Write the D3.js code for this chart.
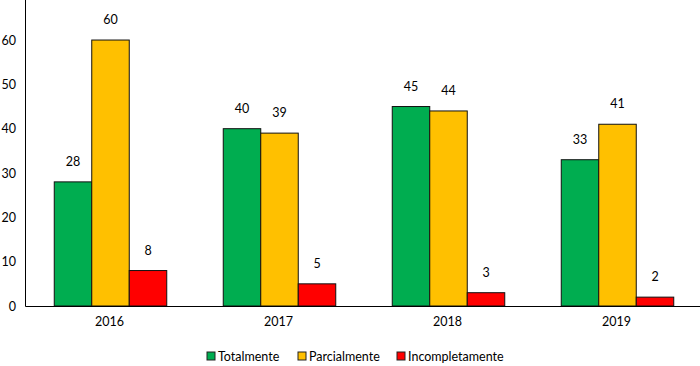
<!DOCTYPE html>
<html><head><meta charset="utf-8">
<script src="https://cdn.jsdelivr.net/npm/d3@7"></script>
<style>body{margin:0;background:#fff}svg{display:block;font-family:Lato,"Open Sans",sans-serif}</style>
</head><body><svg id="c" width="700" height="366"></svg>
<script>
const years = ["2016","2017","2018","2019"];
const seriesNames = ["Totalmente","Parcialmente","Incompletamente"];
const totalmente = [28,40,45,33];
const parcialmente = [60,39,44,41];
const incompletamente = [8,5,3,2];
const colors = ["#00ad50","#ffc000","#ff0000"];
const yTicks = [0,10,20,30,40,50,60,70];

const svg = d3.select("#c");
const x = d3.scaleBand().domain(years).range([25,701]);
const xs = d3.scaleBand().domain(seriesNames).range([0,112.5]);
const y = d3.scaleLinear().domain([0,70]).range([306,-4.3]);
const vals = [totalmente,parcialmente,incompletamente];

const ya = svg.append("g").attr("transform","translate(25,0)")
  .call(d3.axisLeft(y).tickValues(yTicks).tickSize(0).tickPadding(9));
ya.select(".domain").attr("stroke","#000");
ya.selectAll("text").attr("font-size",12.5).attr("fill","#000").attr("font-family","Lato, sans-serif");

const off = (x.bandwidth()-112.5)/2 + 1;
years.forEach((yr,i)=>{
  vals.forEach((arr,j)=>{
    const bx = x(yr)+off+xs(seriesNames[j]);
    svg.append("rect").attr("x",bx).attr("y",y(arr[i])).attr("width",xs.bandwidth())
      .attr("height",y(0)-y(arr[i])).attr("fill",colors[j]).attr("stroke","#111").attr("stroke-width",1);
    svg.append("text").attr("x",bx+xs.bandwidth()/2).attr("y",y(arr[i])-16)
      .attr("text-anchor","middle").attr("font-size",12.5).attr("fill","#000").text(arr[i]);
  });
});

const xa = svg.append("g").attr("transform","translate(0,306)")
  .call(d3.axisBottom(x).tickSize(0).tickPadding(11));
xa.select(".domain").attr("stroke","#000");
xa.selectAll("text").attr("font-size",12.5).attr("fill","#000").attr("font-family","Lato, sans-serif");

const lx = [207,298,397];
seriesNames.forEach((s,j)=>{
  svg.append("rect").attr("x",lx[j]).attr("y",352).attr("width",8).attr("height",8)
    .attr("fill",colors[j]).attr("stroke","#222").attr("stroke-width",1);
  svg.append("text").attr("x",lx[j]+11).attr("y",360.5).attr("font-size",12.5).attr("fill","#000").text(s);
});
</script></body></html>
